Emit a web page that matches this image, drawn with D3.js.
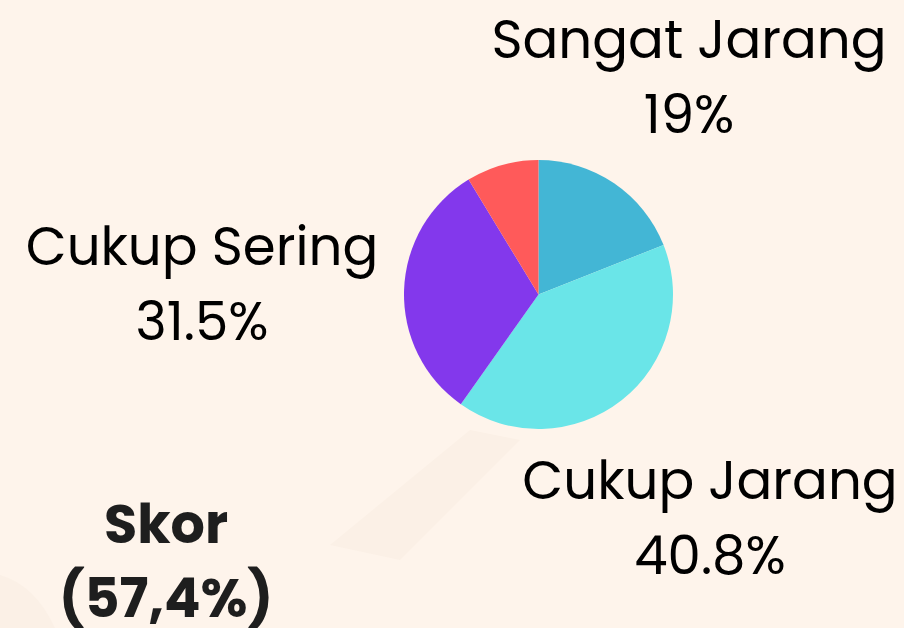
<!DOCTYPE html>
<html>
<head>
<meta charset="utf-8">
<script src="https://cdn.jsdelivr.net/npm/d3@7"></script>
<style>
  html, body { margin: 0; padding: 0; background: #fef4eb; }
  svg { display: block; }
</style>
</head>
<body>
<svg id="chart" width="904" height="628"></svg>
<script>
// data
const categories = ['Sangat Jarang', 'Cukup Jarang', 'Cukup Sering', 'Lainnya'];
const values = [19, 40.8, 31.5, 8.7];
const valueLabels = ['19%', '40.8%', '31.5%', ''];
const colors = ['#43b6d5', '#6ae5e8', '#8338ec', '#ff5a5a'];
const scoreTitle = 'Skor';
const scoreValue = '(57,4%)';

const width = 904, height = 628;
const svg = d3.select('#chart');
const font = 'Poppins, Inter, "Open Sans", sans-serif';

// faint decorative shapes in the background
svg.append('path')
  .attr('d', 'M330,545 L470,430 L520,440 L400,560 Z')
  .attr('fill', '#fbf0e6');
svg.append('path')
  .attr('d', 'M0,575 Q35,585 55,628 L0,628 Z')
  .attr('fill', '#fbf0e6');

const cx = 538.5, cy = 294.5, r = 134.5;

const pie = d3.pie().sort(null).value(d => d);
const arc = d3.arc().innerRadius(0).outerRadius(r);

const g = svg.append('g').attr('transform', `translate(${cx},${cy})`);
g.selectAll('path')
  .data(pie(values))
  .join('path')
  .attr('d', arc)
  .attr('fill', (d, i) => colors[i]);

// labels placed outside the pie
const labelPos = [
  { x: 689, y: 58 },
  { x: 710, y: 499 },
  { x: 202, y: 265 }
];

labelPos.forEach((p, i) => {
  const t = svg.append('text')
    .attr('x', p.x)
    .attr('y', p.y)
    .attr('text-anchor', 'middle')
    .attr('font-family', font)
    .attr('font-size', 53)
    .attr('fill', '#000');
  t.append('tspan').attr('x', p.x).text(categories[i]);
  t.append('tspan').attr('x', p.x).attr('dy', 75).text(valueLabels[i]);
});

const s = svg.append('text')
  .attr('x', 166)
  .attr('y', 543)
  .attr('text-anchor', 'middle')
  .attr('font-family', font)
  .attr('font-weight', 700)
  .attr('font-size', 54)
  .attr('fill', '#1e1e1e');
s.append('tspan').attr('x', 166).text(scoreTitle);
s.append('tspan').attr('x', 166).attr('dy', 74).text(scoreValue);
</script>
</body>
</html>
